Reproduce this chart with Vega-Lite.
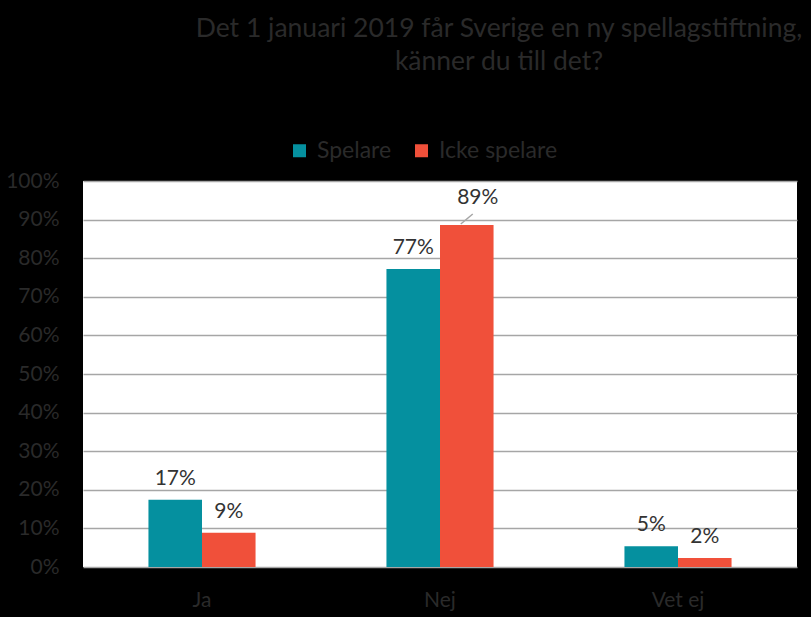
{
  "$schema": "https://vega.github.io/schema/vega-lite/v6.json",
  "autosize": "none",
  "width": 714,
  "height": 386,
  "padding": {"left": 83, "top": 181, "right": 14, "bottom": 50},
  "background": "#000000",
  "view": {"fill": "#ffffff", "stroke": null},
  "title": {
    "text": ["Det 1 januari 2019 får Sverige en ny spellagstiftning,", "känner du till det?"],
    "anchor": "middle",
    "frame": "group",
    "dx": 59,
    "offset": 64,
    "font": "Lato",
    "fontSize": 26.5,
    "fontWeight": 400,
    "color": "#2a2a2a",
    "lineHeight": 33
  },
  "data": {
    "values": [
      {"svar": "Ja", "grupp": "Spelare", "andel": 0.174, "label": "17%"},
      {"svar": "Ja", "grupp": "Icke spelare", "andel": 0.089, "label": "9%"},
      {"svar": "Nej", "grupp": "Spelare", "andel": 0.772, "label": "77%"},
      {"svar": "Nej", "grupp": "Icke spelare", "andel": 0.886, "label": "89%"},
      {"svar": "Vet ej", "grupp": "Spelare", "andel": 0.054, "label": "5%"},
      {"svar": "Vet ej", "grupp": "Icke spelare", "andel": 0.023, "label": "2%"}
    ]
  },
  "encoding": {
    "x": {
      "field": "svar", "type": "nominal", "sort": ["Ja", "Nej", "Vet ej"],
      "scale": {"paddingInner": 0.55, "paddingOuter": 0.275},
      "axis": {"title": null, "labelAngle": 0, "domain": false, "ticks": false, "labelPadding": 33, "labelFont": "Lato", "labelFontSize": 21, "labelColor": "#2a2a2a", "labelBaseline": "middle"}
    },
    "xOffset": {"field": "grupp", "type": "nominal", "sort": ["Spelare", "Icke spelare"]},
    "y": {
      "field": "andel", "type": "quantitative",
      "scale": {"domain": [0, 1]},
      "axis": {"title": null, "format": ".0%", "values": [0, 0.1, 0.2, 0.3, 0.4, 0.5, 0.6, 0.7, 0.8, 0.9, 1], "domain": false, "ticks": false, "labelPadding": 24, "labelFont": "Lato", "labelFontSize": 21, "labelColor": "#2a2a2a", "gridColor": "#a6a6a6", "gridWidth": 1.5}
    }
  },
  "layer": [
    {
      "mark": {"type": "bar"},
      "encoding": {
        "color": {
          "field": "grupp", "type": "nominal", "sort": ["Spelare", "Icke spelare"],
          "scale": {"domain": ["Spelare", "Icke spelare"], "range": ["#05909f", "#f0503a"]},
          "legend": {"title": null, "orient": "none", "direction": "horizontal", "legendX": 205, "legendY": -42, "symbolType": "square", "symbolSize": 169, "symbolOpacity": 1, "symbolStrokeWidth": 0, "labelFont": "Lato", "labelFontSize": 23, "labelColor": "#2a2a2a", "columnPadding": 18, "labelOffset": 6}
        }
      }
    },
    {
      "transform": [{"filter": "datum.label != '89%'"}],
      "mark": {"type": "text", "dy": -15, "baseline": "alphabetic", "font": "Lato", "fontSize": 21, "color": "#333333"},
      "encoding": {"text": {"field": "label"}}
    },
    {
      "transform": [{"filter": "datum.label == '89%'"}],
      "mark": {"type": "text", "dy": -21, "dx": 11, "baseline": "alphabetic", "font": "Lato", "fontSize": 21, "color": "#333333"},
      "encoding": {"text": {"field": "label"}}
    },
    {
      "transform": [{"filter": "datum.label == '89%'"}],
      "mark": {"type": "point", "shape": "M-1,0.83L1,-0.83", "size": 144, "filled": false, "stroke": "#a6a6a6", "strokeWidth": 1.5, "opacity": 1, "xOffset": 6, "yOffset": -6},
      "encoding": {}
    }
  ]
}
